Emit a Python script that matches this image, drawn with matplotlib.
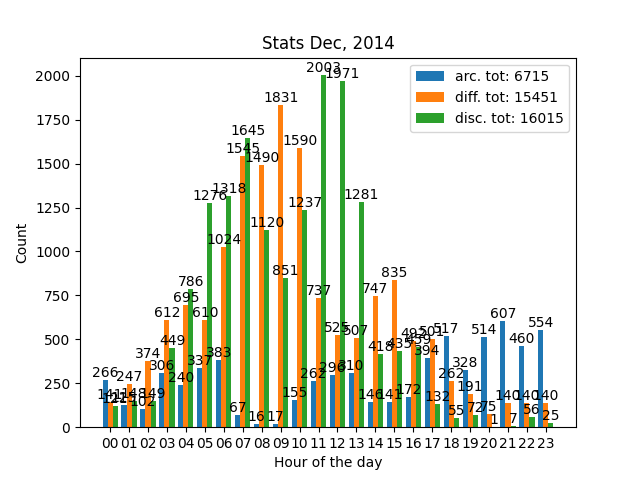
import matplotlib
matplotlib.use("Agg")
import matplotlib.pyplot as plt
import numpy as np

HOURS = [f"{h:02d}" for h in range(24)]
ARC = [266, 125, 102, 306, 240, 337, 383, 67, 16, 17, 155, 262,
       296, 310, 146, 141, 172, 394, 517, 328, 514, 607, 460, 554]
DIFF = [141, 247, 374, 612, 695, 610, 1024, 1545, 1490, 1831, 1590, 737,
        525, 507, 747, 835, 492, 501, 262, 191, 75, 140, 140, 140]
DISC = [121, 148, 149, 449, 786, 1276, 1318, 1645, 1120, 851, 1237, 2003,
        1971, 1281, 418, 435, 459, 132, 55, 72, 1, 7, 56, 25]


def main():
    x = np.arange(len(HOURS))
    w = 0.8 / 3
    fig, ax = plt.subplots(figsize=(6.4, 4.8), dpi=100)
    series = [("arc.", ARC, -w), ("diff.", DIFF, 0), ("disc.", DISC, w)]
    for name, vals, off in series:
        bars = ax.bar(x + off, vals, w, label=f"{name} tot: {sum(vals)}")
        for b, v in zip(bars, vals):
            ax.text(b.get_x() + b.get_width() / 2, b.get_height(), f"{v}",
                    ha="center", va="bottom")
    ax.set_xticks(x)
    ax.set_xticklabels(HOURS)
    ax.set_xlabel("Hour of the day")
    ax.set_ylabel("Count")
    ax.set_title("Stats Dec, 2014")
    ax.legend(loc="upper right")
    fig.savefig("out.png", dpi=100)


if __name__ == "__main__":
    main()
